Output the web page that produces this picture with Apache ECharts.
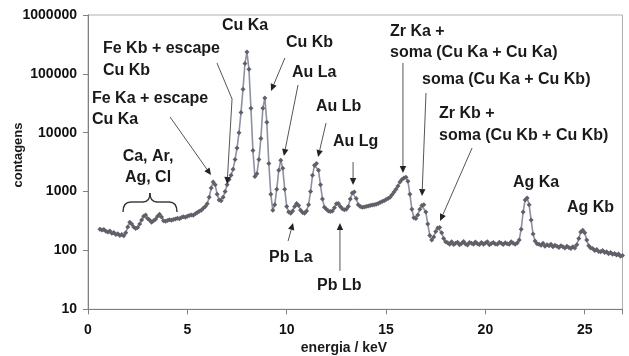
<!DOCTYPE html>
<html>
<head>
<meta charset="utf-8">
<script src="https://cdn.jsdelivr.net/npm/echarts@6/dist/echarts.min.js"></script>
<style>
  html, body { margin: 0; padding: 0; background: #fff; }
  #chart { width: 629px; height: 356px; }
</style>
</head>
<body>
<div id="chart"></div>
<script>
// X-ray fluorescence spectrum: energy (keV) and counts per channel
const energy = [
  0.6, 0.7, 0.8, 0.9, 1.0, 1.1, 1.2, 1.3, 1.4, 1.5,
  1.6, 1.7, 1.8, 1.9, 2.0, 2.1, 2.2, 2.3, 2.4, 2.5,
  2.6, 2.7, 2.8, 2.9, 3.0, 3.1, 3.2, 3.3, 3.4, 3.5,
  3.6, 3.7, 3.8, 3.9, 4.0, 4.1, 4.2, 4.3, 4.4, 4.5,
  4.6, 4.7, 4.8, 4.9, 5.0, 5.1, 5.2, 5.3, 5.4, 5.5,
  5.6, 5.7, 5.8, 5.9, 6.0, 6.1, 6.2, 6.3, 6.4, 6.5,
  6.6, 6.7, 6.8, 6.9, 7.0, 7.1, 7.2, 7.3, 7.4, 7.5,
  7.6, 7.7, 7.8, 7.9, 8.0, 8.1, 8.2, 8.3, 8.4, 8.5,
  8.6, 8.7, 8.8, 8.9, 9.0, 9.1, 9.2, 9.3, 9.4, 9.5,
  9.6, 9.7, 9.8, 9.9, 10.0, 10.1, 10.2, 10.3, 10.4, 10.5,
  10.6, 10.7, 10.8, 10.9, 11.0, 11.1, 11.2, 11.3, 11.4, 11.5,
  11.6, 11.7, 11.8, 11.9, 12.0, 12.1, 12.2, 12.3, 12.4, 12.5,
  12.6, 12.7, 12.8, 12.9, 13.0, 13.1, 13.2, 13.3, 13.4, 13.5,
  13.6, 13.7, 13.8, 13.9, 14.0, 14.1, 14.2, 14.3, 14.4, 14.5,
  14.6, 14.7, 14.8, 14.9, 15.0, 15.1, 15.2, 15.3, 15.4, 15.5,
  15.6, 15.7, 15.8, 15.9, 16.0, 16.1, 16.2, 16.3, 16.4, 16.5,
  16.6, 16.7, 16.8, 16.9, 17.0, 17.1, 17.2, 17.3, 17.4, 17.5,
  17.6, 17.7, 17.8, 17.9, 18.0, 18.1, 18.2, 18.3, 18.4, 18.5,
  18.6, 18.7, 18.8, 18.9, 19.0, 19.1, 19.2, 19.3, 19.4, 19.5,
  19.6, 19.7, 19.8, 19.9, 20.0, 20.1, 20.2, 20.3, 20.4, 20.5,
  20.6, 20.7, 20.8, 20.9, 21.0, 21.1, 21.2, 21.3, 21.4, 21.5,
  21.6, 21.7, 21.8, 21.9, 22.0, 22.1, 22.2, 22.3, 22.4, 22.5,
  22.6, 22.7, 22.8, 22.9, 23.0, 23.1, 23.2, 23.3, 23.4, 23.5,
  23.6, 23.7, 23.8, 23.9, 24.0, 24.1, 24.2, 24.3, 24.4, 24.5,
  24.6, 24.7, 24.8, 24.9, 25.0, 25.1, 25.2, 25.3, 25.4, 25.5,
  25.6, 25.7, 25.8, 25.9, 26.0, 26.1, 26.2, 26.3, 26.4, 26.5,
  26.6, 26.7, 26.8, 26.9
];

const counts = [
  230, 222, 226, 212, 206, 214, 196, 202, 186, 192,
  180, 186, 178, 200, 250, 300, 280, 250, 236, 246,
  280, 330, 380, 400, 350, 330, 300, 320, 340, 380,
  410, 370, 320, 312, 322, 332, 326, 336, 342, 352,
  346, 362, 372, 366, 382, 392, 402, 396, 422, 442,
  462, 482, 520, 560, 620, 800, 1150, 1450, 1300, 900,
  720, 700, 800, 1000, 1300, 1600, 1900, 2400, 3500, 5500,
  10000, 22000, 55000, 150000, 235000, 120000, 26000, 5000, 1800, 2000,
  3500, 8000, 26000, 39000, 15000, 3000, 900, 480, 600, 1100,
  2300, 3400, 2500, 1100, 560, 450, 430, 470, 560, 630,
  580, 480, 440, 430, 470, 600, 1000, 1900, 2800, 3000,
  2300, 1300, 750, 540, 500, 470, 460, 470, 530, 620,
  630, 560, 510, 490, 500, 560, 750, 950, 980, 760,
  600, 560, 540, 545, 560, 570, 580, 590, 600, 610,
  630, 650, 680, 700, 730, 760, 800, 880, 980, 1100,
  1250, 1450, 1600, 1700, 1750, 1500, 900, 500, 360, 350,
  400, 500, 580, 600, 450, 280, 180, 150, 170, 210,
  240, 245, 200, 160, 140, 135, 128, 140, 126, 132,
  138, 125, 131, 142, 129, 124, 136, 133, 127, 139,
  130, 126, 137, 128, 134, 141, 125, 131, 136, 129,
  127, 138, 133, 126, 135, 130, 128, 140, 132, 127,
  134, 150, 230, 450, 720, 780, 600, 330, 190, 145,
  130, 128, 122, 132, 118, 125, 120, 128, 115, 122,
  118, 112, 120, 115, 110, 118, 112, 108, 115, 110,
  125, 160, 205, 220, 200, 150, 120, 110, 108, 100,
  104, 96, 95, 100, 92, 95, 88, 92, 86, 89,
  84, 87, 80, 82
];

// Axis ticks
const xTicks = [0, 5, 10, 15, 20, 25];
const yTicks = [10, 100, 1000, 10000, 100000, 1000000];

// Peak annotations: text lines (left edge / middle, px) and arrow paths in data units [keV, counts]
const labelLines = [
  { t: 'Cu Ka', x: 222, y: 26 },
  { t: 'Fe Kb + escape', x: 103, y: 49 },
  { t: 'Cu Kb', x: 103, y: 71 },
  { t: 'Fe Ka + escape', x: 92, y: 99 },
  { t: 'Cu Ka', x: 92, y: 120 },
  { t: 'Ca, Ar,', x: 148, y: 157, align: 'center' },
  { t: 'Ag, Cl', x: 148, y: 178, align: 'center' },
  { t: 'Cu Kb', x: 286, y: 43 },
  { t: 'Au La', x: 292, y: 73 },
  { t: 'Au Lb', x: 316, y: 107 },
  { t: 'Au Lg', x: 333, y: 142 },
  { t: 'Zr Ka +', x: 390, y: 32 },
  { t: 'soma (Cu Ka + Cu Ka)', x: 390, y: 53 },
  { t: 'soma (Cu Ka + Cu Kb)', x: 422, y: 80 },
  { t: 'Zr Kb +', x: 439, y: 114 },
  { t: 'soma (Cu Kb + Cu Kb)', x: 439, y: 136 },
  { t: 'Ag Ka', x: 513, y: 183 },
  { t: 'Ag Kb', x: 567, y: 208 },
  { t: 'Pb La', x: 269, y: 258 },
  { t: 'Pb Lb', x: 317, y: 286 }
];

const arrows = [
  [[4.13, 18500], [6.19, 1910]],
  [[6.49, 153000], [7.25, 37400], [7.0, 1345]],
  [[9.91, 186000], [9.21, 51100]],
  [[10.57, 64700], [9.86, 4020]],
  [[11.98, 14600], [11.58, 3870]],
  [[13.34, 3180], [13.34, 1294]],
  [[15.85, 153000], [15.85, 2070]],
  [[17.01, 47300], [16.81, 841]],
  [[19.33, 5500], [17.72, 316]],
  [[10.07, 145], [10.32, 293]],
  [[12.68, 44.8], [12.68, 293]]
];

const FONT = '"Liberation Sans", Arial, Helvetica, sans-serif';
const chart = echarts.init(document.getElementById('chart'), null, { renderer: 'canvas' });

const spectrum = energy.map((e, i) => [e, counts[i]]);

chart.setOption({
  animation: false,
  backgroundColor: '#fff',
  grid: { left: 88, right: 6.5, top: 15, bottom: 46.7, show: true, borderColor: '#b0b0b0', borderWidth: 1, backgroundColor: 'transparent' },
  xAxis: {
    type: 'value', min: 0, max: 26.9, interval: 5,
    axisLine: { onZero: false, lineStyle: { color: '#808080', width: 1 } },
    axisTick: { show: true, length: 5, lineStyle: { color: '#808080' } },
    splitLine: { show: false },
    axisLabel: {
      margin: 14, color: '#111', fontFamily: FONT, fontWeight: 'bold', fontSize: 14,
      formatter: v => (xTicks.indexOf(v) >= 0 ? String(v) : '')
    }
  },
  yAxis: {
    type: 'log', logBase: 10, min: 10, max: 1000000,
    axisLine: { show: true, lineStyle: { color: '#808080', width: 1 } },
    axisTick: { show: true, length: 5, lineStyle: { color: '#808080' } },
    splitLine: { show: false },
    minorTick: { show: false },
    axisLabel: {
      margin: 11, color: '#111', fontFamily: FONT, fontWeight: 'bold', fontSize: 14,
      formatter: v => {
        const r = Math.round(v);
        return yTicks.indexOf(r) >= 0 ? String(r) : '';
      }
    }
  },
  series: [{
    type: 'line',
    data: spectrum,
    showSymbol: true,
    symbol: 'diamond',
    symbolSize: 5,
    lineStyle: { color: '#8e91a0', width: 1.6 },
    itemStyle: { color: '#60606a' },
    z: 3
  }]
});

// Annotation layer: texts, brace and arrows
function textEl(text, x, y, font, align) {
  return {
    type: 'text', silent: true, z: 10,
    style: {
      text: text, x: x, y: y, font: font, fill: '#1a1a1a',
      textAlign: align, textVerticalAlign: 'middle',
      align: align, verticalAlign: 'middle'
    }
  };
}

function buildGraphic() {
  const els = [];
  labelLines.forEach(l => {
    els.push(textEl(l.t, l.x, l.y, 'bold 16px ' + FONT, l.align || 'left'));
  });
  // axis titles
  els.push(textEl('energia / keV', 344, 348, 'bold 14px ' + FONT, 'center'));
  const yTitle = textEl('contagens', 0, 0, 'bold 13px ' + FONT, 'center');
  yTitle.x = 18; yTitle.y = 155; yTitle.rotation = Math.PI / 2;
  els.push(yTitle);

  // curly brace over the low-energy group
  const braceStyle = { stroke: '#333', lineWidth: 1.4, fill: null };
  const curves = [
    { x1: 123, y1: 212, x2: 131, y2: 202, cpx1: 123, cpy1: 202 },
    { x1: 143, y1: 202, x2: 150, y2: 193, cpx1: 150, cpy1: 202 },
    { x1: 150, y1: 193, x2: 157, y2: 202, cpx1: 150, cpy1: 202 },
    { x1: 169, y1: 202, x2: 177, y2: 212, cpx1: 177, cpy1: 202 }
  ];
  curves.forEach(c => els.push({ type: 'bezierCurve', silent: true, shape: c, style: braceStyle }));
  els.push({ type: 'line', silent: true, shape: { x1: 131, y1: 202, x2: 143, y2: 202 }, style: braceStyle });
  els.push({ type: 'line', silent: true, shape: { x1: 157, y1: 202, x2: 169, y2: 202 }, style: braceStyle });

  // arrows
  arrows.forEach(a => {
    const pts = a.map(p => chart.convertToPixel({ gridIndex: 0 }, p));
    const tip = pts[pts.length - 1];
    const prev = pts[pts.length - 2];
    const dx = tip[0] - prev[0], dy = tip[1] - prev[1];
    const len = Math.sqrt(dx * dx + dy * dy);
    const ux = dx / len, uy = dy / len;
    const hl = 7, hw = 3.2;
    const bx = tip[0] - ux * hl, by = tip[1] - uy * hl;
    const line = pts.slice(0, -1).concat([[bx, by]]);
    els.push({
      type: 'polyline', silent: true, z: 9,
      shape: { points: line },
      style: { stroke: '#555', lineWidth: 1, fill: null }
    });
    els.push({
      type: 'polygon', silent: true, z: 9,
      shape: { points: [tip, [bx - uy * hw, by + ux * hw], [bx + uy * hw, by - ux * hw]] },
      style: { fill: '#222' }
    });
  });
  return els;
}

chart.setOption({ graphic: { elements: buildGraphic() } });
</script>
</body>
</html>
